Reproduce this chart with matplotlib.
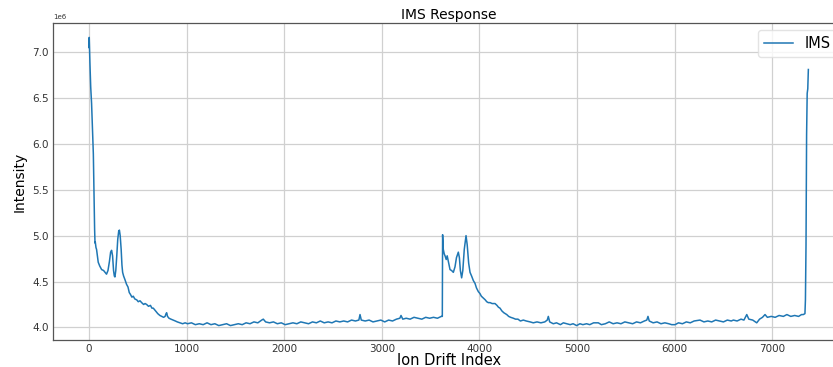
import numpy as np
import matplotlib
matplotlib.use("Agg")
import matplotlib.pyplot as plt

# drift index / intensity (x1e6)
idx_a = [0, 3, 10, 18, 27, 33, 38, 45, 51, 55, 58, 62, 65, 72, 78, 86, 95, 110, 130, 150,
         165, 180, 195, 210, 222, 232, 242, 252, 260, 266, 275, 285, 295, 305, 312, 320,
         330, 338, 345, 355, 369, 385, 400, 413, 425, 440, 454, 470, 490, 505, 523, 540,
         560, 575, 591, 610, 630, 645, 659, 675, 690, 705, 727, 745, 765, 780, 790, 796,
         805, 820, 840, 864, 885, 905, 932, 960, 985]
val_a = [7.05, 7.16, 6.88, 6.62, 6.44, 6.25, 6.10, 5.89, 5.51, 5.20, 5.07, 4.92, 4.93, 4.87,
         4.85, 4.78, 4.71, 4.67, 4.63, 4.62, 4.60, 4.58, 4.62, 4.72, 4.82, 4.84, 4.78, 4.62,
         4.56, 4.55, 4.62, 4.78, 4.96, 5.05, 5.06, 5.00, 4.85, 4.68, 4.60, 4.56, 4.52, 4.47,
         4.44, 4.38, 4.36, 4.33, 4.34, 4.31, 4.30, 4.28, 4.29, 4.27, 4.25, 4.26, 4.25, 4.23,
         4.24, 4.21, 4.21, 4.19, 4.17, 4.15, 4.13, 4.12, 4.11, 4.12, 4.15, 4.16, 4.12, 4.10,
         4.09, 4.08, 4.07, 4.06, 4.05, 4.04, 4.05]

idx_b = [1010, 1050, 1090, 1130, 1170, 1210, 1250, 1290, 1330, 1370, 1410, 1450, 1490, 1530,
         1570, 1610, 1650, 1690, 1730, 1770, 1786, 1810, 1850, 1890, 1930, 1970, 2010, 2050,
         2090, 2130, 2170, 2210, 2250, 2290, 2330, 2370, 2410, 2450, 2490, 2530, 2570, 2610,
         2650, 2690, 2730, 2765, 2777, 2790, 2830, 2870, 2910, 2950, 2990, 3030, 3070, 3110,
         3150, 3185, 3197, 3215, 3250, 3290, 3330, 3370, 3410, 3450, 3490, 3530, 3570, 3610,
         3620]
val_b = [4.04, 4.05, 4.03, 4.04, 4.03, 4.05, 4.03, 4.04, 4.02, 4.03, 4.04, 4.02, 4.03, 4.04,
         4.03, 4.05, 4.04, 4.06, 4.05, 4.08, 4.09, 4.06, 4.05, 4.06, 4.04, 4.05, 4.03, 4.04,
         4.05, 4.04, 4.06, 4.05, 4.04, 4.06, 4.05, 4.07, 4.05, 4.06, 4.05, 4.07, 4.06, 4.07,
         4.06, 4.08, 4.07, 4.08, 4.14, 4.08, 4.07, 4.08, 4.06, 4.07, 4.08, 4.06, 4.08, 4.07,
         4.09, 4.10, 4.13, 4.09, 4.10, 4.09, 4.11, 4.10, 4.09, 4.11, 4.10, 4.11, 4.10, 4.12,
         4.12]

idx_c = [3623, 3630, 3640, 3648, 3660, 3670, 3682, 3699, 3715, 3733, 3750, 3765, 3784, 3795,
         3805, 3818, 3830, 3845, 3863, 3875, 3890, 3904, 3920, 3938, 3955, 3970, 3989, 4005,
         4020, 4040, 4060, 4075, 4091, 4110, 4130, 4160, 4180, 4195, 4211, 4230, 4250, 4280,
         4300, 4320, 4348, 4370, 4395, 4420, 4450]
val_c = [5.01, 4.85, 4.80, 4.78, 4.74, 4.78, 4.72, 4.63, 4.62, 4.60, 4.66, 4.76, 4.82, 4.76,
         4.62, 4.54, 4.62, 4.85, 5.00, 4.90, 4.70, 4.60, 4.56, 4.51, 4.48, 4.43, 4.39, 4.37,
         4.34, 4.32, 4.30, 4.28, 4.27, 4.27, 4.26, 4.26, 4.24, 4.22, 4.21, 4.18, 4.16, 4.14,
         4.12, 4.11, 4.10, 4.09, 4.09, 4.07, 4.08]

idx_d = [4480, 4520, 4552, 4590, 4630, 4670, 4695, 4706, 4720, 4757, 4790, 4830, 4860, 4893,
         4930, 4960, 4996, 5030, 5060, 5098, 5130, 5170, 5218, 5250, 5290, 5330, 5370, 5410,
         5450, 5490, 5530, 5570, 5610, 5650, 5690, 5715, 5727, 5740, 5780, 5820, 5860, 5900,
         5940, 5970, 6004, 6040, 6080, 6120, 6160, 6200, 6260, 6300, 6340, 6380, 6420, 6460,
         6500, 6540, 6580, 6602, 6640, 6680, 6710, 6739, 6760, 6800, 6841, 6870, 6900, 6926,
         6950, 6990, 7030, 7070, 7114, 7150, 7190, 7230, 7270, 7300, 7318, 7335]
val_d = [4.07, 4.06, 4.05, 4.06, 4.05, 4.06, 4.08, 4.12, 4.06, 4.04, 4.05, 4.03, 4.05, 4.04,
         4.03, 4.04, 4.02, 4.04, 4.03, 4.04, 4.03, 4.05, 4.05, 4.03, 4.04, 4.06, 4.04, 4.05,
         4.04, 4.06, 4.05, 4.04, 4.06, 4.05, 4.07, 4.08, 4.12, 4.07, 4.05, 4.06, 4.04, 4.05,
         4.04, 4.03, 4.03, 4.05, 4.04, 4.06, 4.05, 4.07, 4.08, 4.06, 4.07, 4.06, 4.08, 4.07,
         4.06, 4.08, 4.07, 4.08, 4.07, 4.09, 4.08, 4.14, 4.09, 4.08, 4.05, 4.09, 4.11, 4.14,
         4.11, 4.12, 4.11, 4.13, 4.12, 4.14, 4.12, 4.13, 4.12, 4.14, 4.14, 4.15]

idx_e = [7340, 7346, 7352, 7358, 7364, 7370]
val_e = [4.30, 4.90, 6.10, 6.55, 6.60, 6.81]

drift = np.array(idx_a + idx_b + idx_c + idx_d + idx_e)
intensity = np.array(val_a + val_b + val_c + val_d + val_e) * 1e6

xticks = [0, 1000, 2000, 3000, 4000, 5000, 6000, 7000]
yticks = [4.0e6, 4.5e6, 5.0e6, 5.5e6, 6.0e6, 6.5e6, 7.0e6]

fig = plt.figure(figsize=(8.33, 3.67), dpi=100)
ax = fig.add_axes([0.0636, 0.0736, 0.950, 0.8638])

ax.plot(drift, intensity, color='#1f77b4', linewidth=1.1, label='IMS')

ax.set_xticks(xticks)
ax.set_yticks(yticks)
ax.tick_params(labelsize=7.5, length=0, pad=3, colors='#333333')
ax.yaxis.get_offset_text().set_fontsize(5)
ax.grid(True, color='#d0d0d0', linewidth=0.9)
ax.set_axisbelow(True)
for s in ax.spines.values():
    s.set_color('#555555')
    s.set_linewidth(0.9)

ax.set_title('IMS Response', fontsize=10, pad=3)
ax.set_xlabel('Ion Drift Index', fontsize=10.5, labelpad=-1)
ax.set_ylabel('Intensity', fontsize=10, labelpad=4)
ax.legend(loc='upper right', fontsize=10.5, edgecolor='#dddddd')

fig.savefig('out.png', dpi=100)
